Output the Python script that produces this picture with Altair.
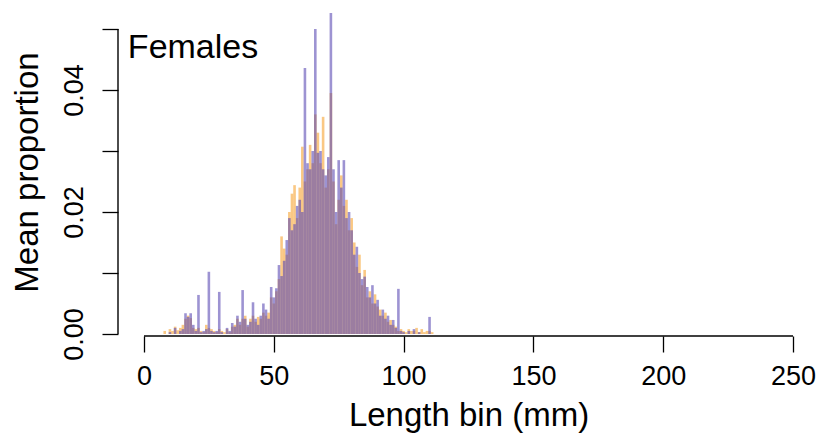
import altair as alt
import pandas as pd

# Length bins (mm) and mean proportions of the two overlaid series
length_bins = list(range(8, 112))

series_blue = [
    0.0, 0.0, 0.0003, 0.0, 0.0010, 0.0, 0.0005, 0.0008, 0.0034, 0.0028,
    0.0034, 0.0015, 0.0005, 0.0064, 0.0003, 0.0005, 0.0008, 0.0102, 0.0005, 0.0003,
    0.0005, 0.0069, 0.0003, 0.0, 0.0010, 0.0005, 0.0018, 0.0012, 0.0030, 0.0020,
    0.0072, 0.0025, 0.0015, 0.0020, 0.0052, 0.0025, 0.0015, 0.0030, 0.0050, 0.0040,
    0.0025, 0.0077, 0.0060, 0.0075, 0.0113, 0.0095, 0.0120, 0.0154, 0.0190, 0.0170,
    0.0180, 0.0210, 0.0220, 0.0200, 0.0436, 0.0280, 0.0270, 0.0300, 0.0500, 0.0297,
    0.0300, 0.0270, 0.0260, 0.0290, 0.0526, 0.0270, 0.0200, 0.0285, 0.0240, 0.0285,
    0.0190, 0.0200, 0.0170, 0.0130, 0.0143, 0.0100, 0.0090, 0.0094, 0.0077, 0.0060,
    0.0080, 0.0050, 0.0056, 0.0030, 0.0040, 0.0025, 0.0030, 0.0015, 0.0023, 0.0010,
    0.0074, 0.0005, 0.0003, 0.0, 0.0005, 0.0, 0.0008, 0.0, 0.0003, 0.0,
    0.0, 0.0, 0.0028, 0.0,
]

series_orange = [
    0.0005, 0.0, 0.0008, 0.0005, 0.0012, 0.0006, 0.0010, 0.0015, 0.0025, 0.0030,
    0.0026, 0.0010, 0.0008, 0.0010, 0.0005, 0.0003, 0.0015, 0.0010, 0.0008, 0.0005,
    0.0003, 0.0008, 0.0005, 0.0003, 0.0008, 0.0003, 0.0012, 0.0015, 0.0025, 0.0015,
    0.0025, 0.0030, 0.0012, 0.0025, 0.0030, 0.0020, 0.0028, 0.0025, 0.0035, 0.0030,
    0.0035, 0.0060, 0.0050, 0.0070, 0.0090, 0.0160, 0.0140, 0.0130, 0.0200, 0.0230,
    0.0244, 0.0190, 0.0240, 0.0307, 0.0250, 0.0270, 0.0310, 0.0280, 0.0360, 0.0330,
    0.0280, 0.0356, 0.0240, 0.0270, 0.0395, 0.0250, 0.0180, 0.0220, 0.0260, 0.0210,
    0.0220, 0.0170, 0.0190, 0.0150, 0.0110, 0.0130, 0.0080, 0.0105, 0.0060, 0.0070,
    0.0050, 0.0065, 0.0045, 0.0040, 0.0030, 0.0035, 0.0020, 0.0023, 0.0015, 0.0012,
    0.0005, 0.0008, 0.0005, 0.0003, 0.0008, 0.0005, 0.0005, 0.0010, 0.0003, 0.0008,
    0.0003, 0.0005, 0.0005, 0.0003,
]

x_ticks = [0, 50, 100, 150, 200, 250]
y_ticks = [0.0, 0.01, 0.02, 0.03, 0.04, 0.05]
y_labels = ["0.00", "0.02", "0.04"]

FONT = "Liberation Sans"

df = pd.DataFrame({"bin": length_bins, "blue": series_blue, "orange": series_orange})
df["lo"] = df["bin"] - 0.5
df["hi"] = df["bin"] + 0.5

x_scale = alt.Scale(domain=[-10, 260], nice=False, zero=False)
y_scale = alt.Scale(domain=[-0.00033, 0.05344], nice=False, zero=False)

label_expr = "indexof(" + str(y_labels) + ", format(datum.value, '.2f')) >= 0 ? format(datum.value, '.2f') : ''"

x_axis = alt.Axis(
    values=x_ticks, format="d", domain=False, grid=False,
    tickSize=16, tickWidth=1.3, tickColor="black",
    labelFontSize=27, labelFont=FONT, labelColor="black", labelPadding=11,
    labelFlush=False, labelOverlap=False,
    title="Length bin (mm)", titleFontSize=33, titleFont=FONT,
    titleFontWeight="normal", titleColor="black", titlePadding=10,
)
y_axis = alt.Axis(
    values=y_ticks, labelExpr=label_expr, domain=False, grid=False,
    tickSize=16, tickWidth=1.3, tickColor="black",
    labelFontSize=27, labelFont=FONT, labelColor="black", labelPadding=14,
    labelAngle=270, labelAlign="center", labelBaseline="bottom",
    labelFlush=False, labelOverlap=False,
    title="Mean proportion", titleFontSize=33, titleFont=FONT,
    titleFontWeight="normal", titleColor="black", titlePadding=16,
)

base = alt.Chart(df)

orange_bars = base.mark_bar(color="#F5910A", opacity=0.5, stroke=None).encode(
    x=alt.X("lo:Q", scale=x_scale, axis=x_axis),
    x2="hi:Q",
    y=alt.Y("orange:Q", scale=y_scale, axis=y_axis),
    y2=alt.datum(0),
)
blue_bars = base.mark_bar(color="#5C4BB4", opacity=0.6, stroke=None).encode(
    x=alt.X("lo:Q", scale=x_scale),
    x2="hi:Q",
    y=alt.Y("blue:Q", scale=y_scale),
    y2=alt.datum(0),
)

one = alt.Chart(pd.DataFrame({"k": [0]}))
x_line = one.mark_rule(color="black", strokeWidth=1.4).encode(
    x=alt.datum(0), x2=alt.datum(250), y=alt.datum(-0.00033)
)
y_line = one.mark_rule(color="black", strokeWidth=1.4).encode(
    x=alt.datum(-10), y=alt.datum(0), y2=alt.datum(0.05)
)
label = one.mark_text(align="left", baseline="middle", fontSize=34, font=FONT, color="black").encode(
    x=alt.datum(-6.2), y=alt.datum(0.0469), text=alt.value("Females")
)

chart = alt.layer(orange_bars, blue_bars, x_line, y_line, label).properties(
    width=701, height=328,
    background="white",
    autosize=alt.AutoSizeParams(type="none"),
    padding={"left": 118, "top": 8, "right": 2, "bottom": 104},
).configure_view(stroke=None, strokeWidth=0)

chart.save("out.html", embed_options={"renderer": "svg", "actions": False})
